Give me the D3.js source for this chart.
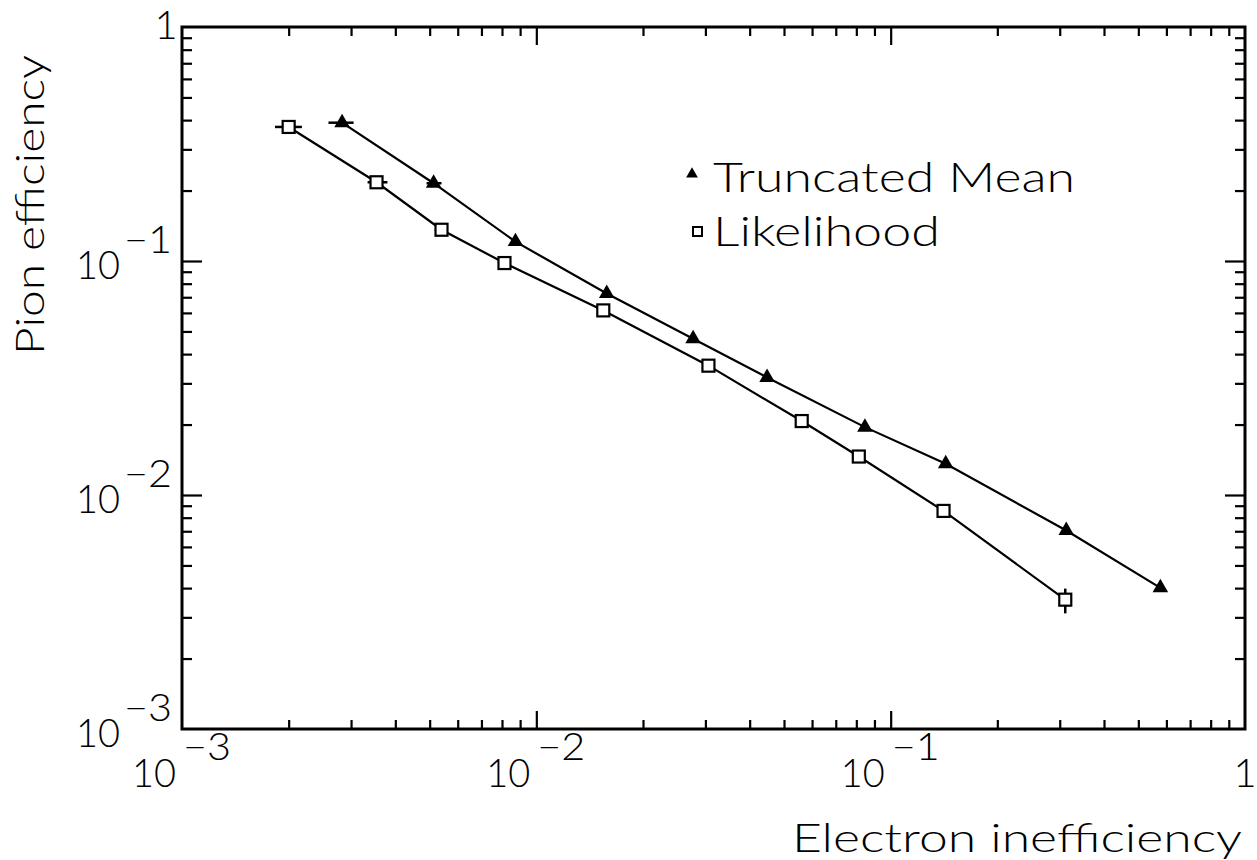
<!DOCTYPE html>
<html><head><meta charset="utf-8">
<script src="https://cdn.jsdelivr.net/npm/d3@7"></script>
<style>
html,body{margin:0;padding:0;background:#fff;}
text{font-family:"Lato","DejaVu Sans",sans-serif;font-weight:300;fill:#000;}
</style></head>
<body>
<svg id="chart" width="1257" height="860"></svg>
<script>
// ---- data ----
const truncX = [0.00283, 0.00513, 0.00873, 0.0158, 0.0277, 0.0448, 0.0846, 0.143, 0.313, 0.577];
const truncY = [0.39, 0.215, 0.121, 0.0726, 0.0465, 0.0318, 0.0195, 0.0136, 0.00705, 0.00401];
const truncXLo = [0.00259, 0.0049, 0.0086, 0.0158, 0.0277, 0.0448, 0.0846, 0.143, 0.313, 0.577];
const truncXHi = [0.00305, 0.0054, 0.0089, 0.0158, 0.0277, 0.0448, 0.0846, 0.143, 0.313, 0.577];
const likeX = [0.0020, 0.00354, 0.0054, 0.00813, 0.01545, 0.0306, 0.0561, 0.0813, 0.141, 0.311];
const likeY = [0.374, 0.217, 0.136, 0.098, 0.0615, 0.0357, 0.0207, 0.0146, 0.00855, 0.00357];
const likeXLo = [0.00183, 0.00334, 0.00517, 0.0080, 0.01545, 0.0306, 0.0561, 0.0813, 0.141, 0.311];
const likeXHi = [0.00218, 0.0038, 0.00563, 0.0083, 0.01545, 0.0306, 0.0561, 0.0813, 0.141, 0.311];
const likeYLo = [0.374, 0.217, 0.136, 0.098, 0.0615, 0.0357, 0.0207, 0.0146, 0.00855, 0.00312];
const likeYHi = [0.374, 0.217, 0.136, 0.098, 0.0615, 0.0357, 0.0207, 0.0146, 0.00855, 0.00398];
const seriesNames = ["Truncated Mean", "Likelihood"];
const xTickLabels = [{v:1e-3, b:"10", e:"\u22123"}, {v:1e-2, b:"10", e:"\u22122"}, {v:1e-1, b:"10", e:"\u22121"}, {v:1, b:"1", e:""}];
const yTickLabels = [{v:1e-3, b:"10", e:"\u22123"}, {v:1e-2, b:"10", e:"\u22122"}, {v:1e-1, b:"10", e:"\u22121"}, {v:1, b:"1", e:""}];
const xTitle = "Electron inefficiency";
const yTitle = "Pion efficiency";

// ---- layout ----
const L = 182, R = 1245, T = 27, B = 729;
const svg = d3.select("#chart");
const x = d3.scaleLog().domain([1e-3, 1]).range([L, R]);
const y = d3.scaleLog().domain([1e-3, 1]).range([B, T]);

const decades = [1e-3, 1e-2, 1e-1];
const minor = [];
decades.forEach(d => { for (let k = 2; k <= 9; k++) minor.push(+(k * d).toPrecision(3)); });
const major = [1e-2, 1e-1];

function tickAxis(gen, scale, vals, size, transform) {
  const g = svg.append("g").attr("transform", transform)
    .call(gen(scale).tickValues(vals).tickSize(size).tickFormat(""));
  g.select(".domain").remove();
  g.selectAll(".tick line").attr("stroke", "#000").attr("stroke-width", 2.2);
  return g;
}
// inside ticks on all four sides
tickAxis(d3.axisBottom, x, minor, -9, `translate(0,${B})`);
tickAxis(d3.axisBottom, x, major, -18, `translate(0,${B})`);
tickAxis(d3.axisTop, x, minor, -9, `translate(0,${T})`);
tickAxis(d3.axisTop, x, major, -18, `translate(0,${T})`);
tickAxis(d3.axisLeft, y, minor, -10, `translate(${L},0)`);
tickAxis(d3.axisLeft, y, major, -20, `translate(${L},0)`);
tickAxis(d3.axisRight, y, minor, -10, `translate(${R},0)`);
tickAxis(d3.axisRight, y, major, -20, `translate(${R},0)`);

// frame
svg.append("rect").attr("x", L).attr("y", T).attr("width", R - L).attr("height", B - T)
  .attr("fill", "none").attr("stroke", "#000").attr("stroke-width", 3);

function stretched(sel, w) {
  return sel.attr("textLength", w).attr("lengthAdjust", "spacingAndGlyphs");
}

// x tick labels
xTickLabels.forEach(t => {
  const px = x(t.v);
  if (t.e) {
    stretched(svg.append("text").attr("x", px - 50).attr("y", B + 58).attr("font-size", 40).text(t.b), 44);
    stretched(svg.append("text").attr("x", px + 1).attr("y", B + 31).attr("font-size", 38).text(t.e), 48);
  } else {
    svg.append("text").attr("x", px).attr("y", B + 58).attr("text-anchor", "middle")
      .attr("font-size", 40).text(t.b);
  }
});
// y tick labels (right aligned near the frame)
yTickLabels.forEach(t => {
  const py = y(t.v);
  if (t.e) {
    stretched(svg.append("text").attr("x", 76).attr("y", py + 18).attr("font-size", 40).text(t.b), 44);
    stretched(svg.append("text").attr("x", 124).attr("y", py - 8).attr("font-size", 38).text(t.e), 48);
  } else {
    svg.append("text").attr("x", 166).attr("y", py + 12).attr("text-anchor", "middle")
      .attr("font-size", 40).text(t.b);
  }
});
// axis titles
stretched(svg.append("text").attr("x", 792).attr("y", 852).attr("font-size", 40).text(xTitle), 450);
stretched(svg.append("text").attr("transform", `translate(44,355) rotate(-90)`)
  .attr("font-size", 40).text(yTitle), 300);

// series
const line = d3.line().x(d => x(d[0])).y(d => y(d[1]));
const truncData = truncX.map((v, i) => [v, truncY[i]]);
const likeData = likeX.map((v, i) => [v, likeY[i]]);
svg.append("path").datum(truncData).attr("d", line).attr("fill", "none").attr("stroke", "#000").attr("stroke-width", 2.2);
svg.append("path").datum(likeData).attr("d", line).attr("fill", "none").attr("stroke", "#000").attr("stroke-width", 2.2);

// error bars
function errBars(xs, ys, xlo, xhi, ylo, yhi) {
  xs.forEach((v, i) => {
    if (xlo[i] !== xhi[i]) svg.append("line").attr("x1", x(xlo[i])).attr("x2", x(xhi[i]))
      .attr("y1", y(ys[i])).attr("y2", y(ys[i])).attr("stroke", "#000").attr("stroke-width", 2.5);
    if (ylo && ylo[i] !== yhi[i]) svg.append("line").attr("x1", x(v)).attr("x2", x(v))
      .attr("y1", y(ylo[i])).attr("y2", y(yhi[i])).attr("stroke", "#000").attr("stroke-width", 2.5);
  });
}
errBars(truncX, truncY, truncXLo, truncXHi, null, null);
errBars(likeX, likeY, likeXLo, likeXHi, likeYLo, likeYHi);

const tri = d3.symbol().type(d3.symbolTriangle).size(105);
svg.append("g").selectAll("path").data(truncData).join("path")
  .attr("transform", d => `translate(${x(d[0])},${y(d[1])})`).attr("d", tri).attr("fill", "#000");
svg.append("g").selectAll("rect").data(likeData).join("rect")
  .attr("x", d => x(d[0]) - 6).attr("y", d => y(d[1]) - 6).attr("width", 12).attr("height", 12)
  .attr("fill", "#fff").attr("stroke", "#000").attr("stroke-width", 2.2);

// legend
const lg = svg.append("g");
lg.append("path").attr("transform", "translate(692,174)").attr("d", d3.symbol().type(d3.symbolTriangle).size(60)).attr("fill", "#000");
stretched(lg.append("text").attr("x", 713).attr("y", 192).attr("font-size", 42).text(seriesNames[0]), 362);
lg.append("rect").attr("x", 693).attr("y", 227).attr("width", 9).attr("height", 9).attr("fill", "#fff").attr("stroke", "#000").attr("stroke-width", 2);
stretched(lg.append("text").attr("x", 713).attr("y", 246).attr("font-size", 42).text(seriesNames[1]), 227);
</script>
</body></html>
